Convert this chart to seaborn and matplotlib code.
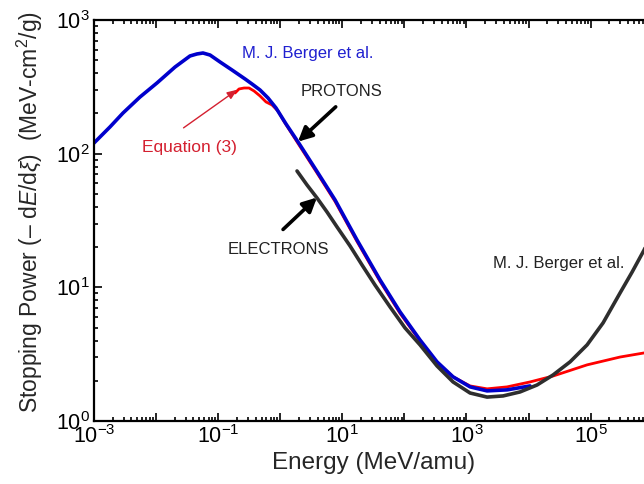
import numpy as np
import pandas as pd
import matplotlib
matplotlib.use("Agg")
import matplotlib.pyplot as plt
import matplotlib.ticker as mticker
import seaborn as sns

# Proton stopping power, M. J. Berger et al. (energy in MeV/amu, S in MeV-cm^2/g)
proton_energy = [0.001, 0.00181, 0.00293, 0.00551, 0.01035, 0.0202, 0.0352, 0.0456,
                 0.0570, 0.0740, 0.1072, 0.167, 0.271, 0.3511, 0.4726, 0.6358,
                 0.8553, 1.240, 1.936, 3.776, 7.638, 17.26, 40.55, 85.11, 178.6,
                 335.7, 608.1, 1143, 2148, 4508, 10570]
proton_sp = [120.2, 158.5, 201.4, 265.5, 338.1, 444.9, 538.2, 557.2,
             566.4, 547.0, 485.3, 422.7, 362.2, 332.1, 299.5, 261.0,
             219.7, 166.8, 122.4, 75.5, 45.1, 22.6, 11.36, 6.55, 4.04,
             2.77, 2.14, 1.80, 1.68, 1.71, 1.83]

# Equation (3)
eq3_energy = [0.1871, 0.2168, 0.2612, 0.3141, 0.3784, 0.4721, 0.5902, 0.7379,
              0.9204, 1.151, 1.936, 3.776, 7.638, 17.26, 40.55, 85.11, 178.6,
              335.7, 608.1, 1143, 2148, 4508, 10570, 24830, 87700, 297900,
              726100, 1000000]
eq3_sp = [284.4, 304.8, 309.9, 309.9, 294.4, 270.3, 243.8, 231.3,
          208.5, 174.2, 119.2, 73.6, 43.9, 22.0, 11.07, 6.38, 3.97,
          2.72, 2.14, 1.83, 1.74, 1.80, 1.96, 2.17, 2.63, 3.01,
          3.23, 3.32]

# Electron stopping power, M. J. Berger et al.
electron_energy = [1.864, 2.702, 3.915, 5.674, 8.222, 13.32, 20.78, 33.66, 58.73,
                   102.4, 178.7, 335.7, 608.0, 1142, 2146, 3885, 7298, 13720,
                   24830, 46660, 87660, 158700, 298100, 465300, 726100, 1000000]
electron_sp = [74.2, 58.3, 46.6, 36.6, 28.3, 20.4, 14.7, 10.4, 7.14,
               4.97, 3.71, 2.58, 1.96, 1.62, 1.51, 1.54, 1.65, 1.86,
               2.21, 2.77, 3.71, 5.42, 9.08, 13.0, 19.0, 26.0]

x_tick_exponents = [-3, -2, -1, 0, 1, 2, 3, 4, 5, 6]
y_tick_exponents = [0, 1, 2, 3]

sns.set_theme(style="ticks")
plt.rcParams["font.family"] = ["Liberation Sans", "DejaVu Sans"]
plt.rcParams["mathtext.fontset"] = "custom"
plt.rcParams["mathtext.rm"] = "Liberation Sans"
plt.rcParams["mathtext.it"] = "Liberation Sans:italic"
plt.rcParams["mathtext.sf"] = "Liberation Sans"

fig = plt.figure(figsize=(6.44, 4.84), dpi=100)
ax = fig.add_axes([94 / 644, 63 / 484, 558.7 / 644, 401 / 484])

df_eq3 = pd.DataFrame({"E": eq3_energy, "S": eq3_sp})
df_p = pd.DataFrame({"E": proton_energy, "S": proton_sp})
df_e = pd.DataFrame({"E": electron_energy, "S": electron_sp})

ax.set_xscale("log")
ax.set_yscale("log")

line_kw = dict(sort=False, estimator=None, solid_joinstyle="round",
               solid_capstyle="round")
sns.lineplot(data=df_eq3, x="E", y="S", ax=ax, color="#ff0000", lw=2.0, **line_kw)
sns.lineplot(data=df_p, x="E", y="S", ax=ax, color="#0000cc", lw=2.6, **line_kw)
sns.lineplot(data=df_e, x="E", y="S", ax=ax, color="#2e2e2e", lw=2.6, **line_kw)

ax.set_xlim(1e-3, 1e6)
ax.set_ylim(1, 1e3)

ax.xaxis.set_major_locator(mticker.FixedLocator([10.0 ** k for k in x_tick_exponents]))
ax.yaxis.set_major_locator(mticker.FixedLocator([10.0 ** k for k in y_tick_exponents]))


def odd_decades(v, pos):
    k = int(round(np.log10(v)))
    return f"10$^{{{k}}}$" if k % 2 else ""


def all_decades(v, pos):
    k = int(round(np.log10(v)))
    return f"10$^{{{k}}}$"


ax.xaxis.set_major_formatter(mticker.FuncFormatter(odd_decades))
ax.yaxis.set_major_formatter(mticker.FuncFormatter(all_decades))
ax.xaxis.set_minor_locator(mticker.LogLocator(base=10, subs=np.arange(2, 10), numticks=20))
ax.yaxis.set_minor_locator(mticker.LogLocator(base=10, subs=np.arange(2, 10), numticks=20))
ax.xaxis.set_minor_formatter(mticker.NullFormatter())
ax.yaxis.set_minor_formatter(mticker.NullFormatter())

ax.tick_params(which="both", direction="in", top=True, right=True,
               colors="black", width=1.2)
ax.tick_params(which="major", length=6, labelsize=15.5, pad=3)
ax.tick_params(which="minor", length=3)
for s in ax.spines.values():
    s.set_linewidth(1.6)
    s.set_color("black")

ax.set_xlabel("Energy (MeV/amu)", fontsize=17.5, labelpad=3)
ax.set_ylabel(r"Stopping Power (– d$E$/d$\xi$)  (MeV-cm$^2$/g)", fontsize=16.5)
ax.yaxis.set_label_coords(-0.088, 0.52)

ax.text(2.79, 557, "M. J. Berger et al.", color="#2020d0", fontsize=12,
        ha="center", va="center")
ax.text(3.05e4, 15.1, "M. J. Berger et al.", color="#222222", fontsize=12,
        ha="center", va="center")

ax.text(9.8, 290, "PROTONS", color="#222222", fontsize=12, ha="center", va="center")
ax.annotate("", xy=(1.93, 123), xytext=(7.83, 224),
            arrowprops=dict(arrowstyle="-|>,head_length=0.7,head_width=0.35",
                            color="black", lw=2.6, shrinkA=0, shrinkB=0))

ax.text(0.92, 19.2, "ELECTRONS", color="#222222", fontsize=12, ha="center", va="center")
ax.annotate("", xy=(3.9, 47), xytext=(1.11, 27.1),
            arrowprops=dict(arrowstyle="-|>,head_length=0.7,head_width=0.35",
                            color="black", lw=2.6, shrinkA=0, shrinkB=0))

ax.text(0.0347, 111, "Equation (3)", color="#d42030", fontsize=12.5,
        ha="center", va="center")
ax.annotate("", xy=(0.203, 301), xytext=(0.0277, 156),
            arrowprops=dict(arrowstyle="-|>,head_length=0.5,head_width=0.2",
                            color="#d42030", lw=1.0, shrinkA=0, shrinkB=0))

fig.savefig("out.png", dpi=100)
